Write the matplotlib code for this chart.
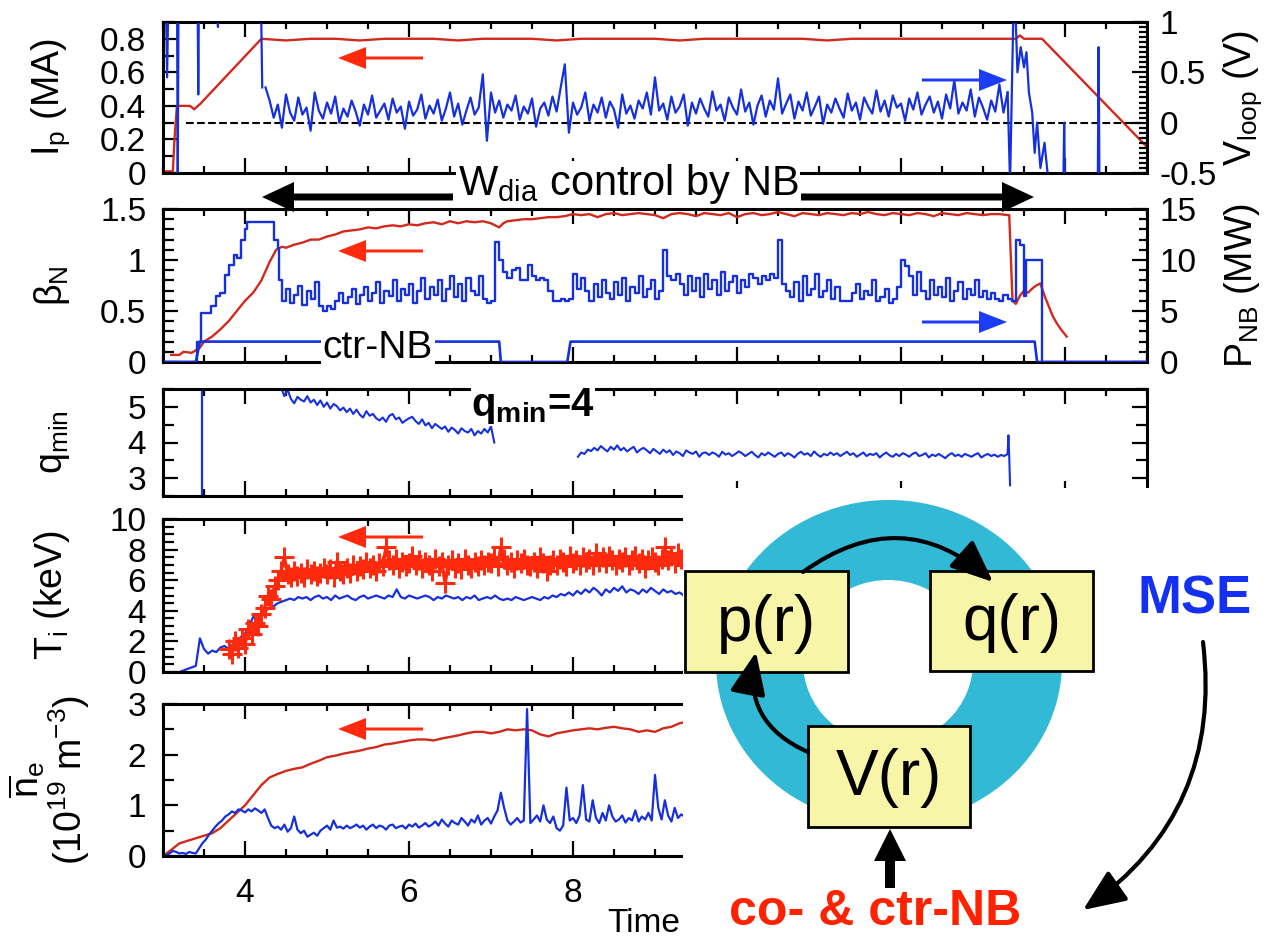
import numpy as np
import matplotlib
matplotlib.use('Agg')
from matplotlib import pyplot as plt
from matplotlib.patches import Rectangle, Ellipse, FancyArrowPatch
from matplotlib.ticker import MultipleLocator, FixedLocator, FormatStrFormatter

plt.rcParams['font.family'] = ['Liberation Sans', 'DejaVu Sans']
plt.rcParams['mathtext.fontset'] = 'custom'
plt.rcParams['mathtext.rm'] = 'Liberation Sans'
plt.rcParams['mathtext.it'] = 'Liberation Sans:italic'
plt.rcParams['mathtext.bf'] = 'Liberation Sans:bold'
plt.rcParams['mathtext.default'] = 'regular'
plt.rcParams['axes.unicode_minus'] = False

# ---- panel 1: Ip (MA) and Vloop (V)
ip_t = [3.03, 3.12, 3.14, 3.17, 3.33, 3.38, 3.45, 4.20, 4.5, 4.8, 5.1, 5.4, 5.7, 6.0, 6.3, 6.6,
        6.9, 7.2, 7.5, 7.8, 8.1, 8.4, 8.7, 9.0, 9.3, 9.6, 9.9, 10.2, 10.5, 10.8, 11.1, 11.4,
        11.7, 12.0, 12.3, 12.6, 12.9, 13.2, 13.4, 13.45, 13.5, 13.72, 15.0]
ip_v = [0.01, 0.01, 0.2, 0.4, 0.4, 0.38, 0.41, 0.8, 0.79, 0.8, 0.8, 0.79, 0.8, 0.8, 0.8, 0.79,
        0.8, 0.8, 0.8, 0.79, 0.8, 0.8, 0.8, 0.8, 0.79, 0.8, 0.8, 0.8, 0.8, 0.8, 0.79, 0.8,
        0.8, 0.8, 0.8, 0.8, 0.8, 0.8, 0.8, 0.82, 0.8, 0.8, 0.155]

vl_t0 = [3.03, 3.05, 3.07, 3.17, 3.18, 3.19, 3.42, 3.43, 3.44, 3.66, 3.67, 3.68, 4.19, 4.21]
vl_v0 = [1.5, 0.45, 1.5, 1.5, -0.6, 1.5, 1.5, 0.28, 1.5, 1.5, 0.95, 1.5, 1.5, 0.35]
# Vloop, 4.25 .. 13.30 s (x0.01 V)
vl_mid = [35, 22, 5, 18, -5, 28, 10, 2, 25, 8,
          15, -8, 30, 12, 4, 20, 9, 26, 0, 14,
          6, 22, 11, -3, 18, 8, 27, 5, 12, 19,
          3, 24, 10, 16, -6, 21, 7, 13, 28, 4,
          17, 9, 23, 2, 14, 30, 6, 19, -2, 12,
          25, 8, 15, 48, -18, 30, 10, 22, 5, 18,
          12, 27, 3, 16, 9, 24, -4, 14, 20, 7,
          26, 11, 35, 58, -10, 20, 8, 15, 30, 2,
          18, 10, 25, 5, 21, 13, -5, 28, 9, 17,
          4, 22, 14, 30, 8, 45, 12, 19, 3, 26,
          10, 16, 28, -3, 20, 9, 24, 14, 6, 31,
          12, 18, 2, 25, 15, 8, 33, 11, 20, -2,
          17, 27, 6, 22, 13, 44, 9, 19, 28, 4,
          21, 12, 30, 7, 16, 26, -1, 18, 10, 24,
          14, 5, 29, 12, 20, 3, 25, 16, 9, 32,
          11, 22, 6, 27, 15, 19, 2, 24, 13, 30,
          8, 18, 26, 10, 21, 4, 28, 14, 42, 9,
          20, 12, 33, 6, 25, 15, 3, 22, 11, 38,
          10, 30]
vl_t1 = [13.33, 13.38, 13.42, 13.46, 13.5, 13.53, 13.56, 13.6, 13.63, 13.66, 13.7, 13.75,
         13.8, 13.98, 13.99, 14.0, 14.4, 14.41, 14.42, 15.0]
vl_v1 = [-0.6, 1.5, 0.5, 0.75, 0.55, 0.7, 0.3, 0.1, -0.3, 0.0, -0.45, -0.2,
         -0.6, -0.6, 0.0, -0.6, -0.6, 0.75, -0.6, -0.6]

# ---- panel 2: beta_N and P_NB (MW)
bn_t = [3.1, 3.2, 3.25, 3.35, 3.45, 3.5, 3.6, 3.7, 3.8, 3.9, 4.0, 4.1, 4.2, 4.3, 4.38, 4.45,
        4.5, 4.6, 4.7, 4.8, 4.9, 5.0, 5.1, 5.2, 5.3, 5.4, 5.5, 5.6, 5.7, 5.8, 5.9, 6.0, 6.1,
        6.2, 6.3, 6.4, 6.5, 6.6, 6.7, 6.8, 6.9, 7.0, 7.1, 7.15, 7.2, 7.3, 7.4, 7.5, 7.6, 7.7,
        7.8, 7.9, 8.0]
bn_v = [0.07, 0.07, 0.1, 0.09, 0.14, 0.2, 0.25, 0.32, 0.4, 0.5, 0.6, 0.68, 0.8, 0.98, 1.1, 1.13,
        1.12, 1.15, 1.17, 1.2, 1.2, 1.23, 1.25, 1.28, 1.29, 1.3, 1.32, 1.31, 1.33, 1.34, 1.33, 1.35, 1.34,
        1.36, 1.37, 1.35, 1.38, 1.36, 1.38, 1.37, 1.38, 1.36, 1.32, 1.36, 1.38, 1.39, 1.4, 1.4, 1.41, 1.42,
        1.42, 1.43, 1.45]
# beta_N 8.1 .. 13.3 s (x0.01)
bn_mid = [144, 145, 142, 145, 146, 144, 145, 146, 145, 144,
          141, 145, 146, 145, 143, 146, 145, 144, 146, 142,
          145, 146, 144, 145, 147, 145, 143, 146, 145, 144,
          146, 145, 144, 146, 145, 147, 145, 144, 146, 145,
          144, 146, 145, 143, 146, 145, 144, 146, 145, 144,
          145, 145, 144]
bn_t1 = [13.32, 13.36, 13.4, 13.45, 13.5, 13.55, 13.6, 13.65, 13.7, 13.75, 13.8, 13.85, 13.9,
         13.95, 14.0, 14.02]
bn_v1 = [1.44, 0.6, 0.57, 0.65, 0.7, 0.68, 0.72, 0.75, 0.77, 0.65, 0.55, 0.45, 0.38,
         0.32, 0.27, 0.25]

pnb_t0 = [3.0, 3.4, 3.42, 3.46, 3.55, 3.58, 3.65, 3.7, 3.75, 3.8, 3.87, 3.9, 3.95, 4.0, 4.03,
          4.3, 4.35, 4.4, 4.42]
pnb_v0 = [0, 0, 2, 4.8, 4.8, 5.5, 6.5, 6.8, 8.5, 9.5, 10.5, 10.2, 12, 13, 13.7,
          13.7, 12, 11.2, 8]
# P_NB 4.45 .. 13.35 s (x0.1 MW)
pnb_mid = [60, 72, 58, 66, 75, 56, 70, 62, 78, 55,
           50, 55, 52, 60, 68, 58, 64, 72, 57, 66,
           74, 60, 68, 78, 58, 70, 65, 80, 60, 72,
           66, 76, 58, 70, 82, 62, 74, 66, 80, 60,
           72, 84, 64, 76, 60, 82, 70, 66, 84, 62,
           58, 60, 118, 100, 88, 82, 90, 92, 80, 80,
           95, 84, 80, 82, 80, 70, 60, 60, 62, 60,
           62, 86, 72, 82, 70, 60, 76, 64, 80, 68,
           62, 78, 66, 82, 60, 74, 68, 84, 64, 72,
           80, 62, 70, 110, 84, 80, 86, 76, 66, 84,
           70, 82, 64, 86, 72, 80, 66, 88, 70, 78,
           84, 68, 80, 74, 86, 82, 76, 84, 80, 86,
           82, 120, 76, 70, 64, 78, 60, 84, 66, 72,
           86, 64, 70, 80, 62, 74, 60, 60, 60, 68,
           76, 62, 70, 66, 80, 60, 64, 72, 58, 62,
           74, 100, 94, 84, 66, 88, 70, 62, 80, 66,
           74, 64, 82, 60, 70, 78, 62, 72, 66, 80,
           64, 70, 62, 68, 62, 60, 66, 62, 60]
pnb_t1 = [13.4, 13.45, 13.5, 13.52, 13.7, 13.72, 15.0]
pnb_v1 = [12, 11.5, 6.5, 10, 10, 0, 0]

ctr_t = [3.0, 3.4, 3.45, 7.1, 7.12, 7.93, 7.97, 13.63, 13.66, 15.0]
ctr_v = [0, 0, 2, 2, 0, 0, 2, 2, 0, 0]

# ---- panel 3: q_min
q_spike_t = [3.48, 3.48]
q_spike_v = [2.4, 5.6]
# 4.44 .. 7.04 s (x0.01)
q_seg1 = [555, 530, 548, 522, 510, 528, 520, 515, 530, 512,
          520, 505, 518, 500, 512, 495, 508, 502, 490, 498,
          485, 495, 480, 492, 478, 470, 488, 475, 480, 468,
          462, 470, 458, 475, 480, 465, 470, 455, 462, 468,
          472, 460, 452, 465, 448, 455, 440, 452, 445, 438,
          445, 430, 442, 435, 425, 440, 432, 428, 438, 420,
          432, 425, 438, 428, 445, 400]
# 8.06 .. 13.30 s (x0.01)
q_seg2 = [360, 372, 368, 380, 376, 385, 378, 390, 382, 375,
          388, 380, 392, 378, 385, 375, 382, 388, 372, 380,
          385, 378, 370, 382, 375, 368, 380, 372, 378, 365,
          375, 370, 362, 378, 372, 368, 375, 360, 370, 372,
          365, 372, 368, 360, 374, 366, 370, 362, 368, 375,
          370, 362, 368, 374, 365, 358, 370, 364, 372, 366,
          360, 368, 372, 362, 370, 365, 358, 368, 374, 366,
          370, 362, 375, 366, 360, 368, 364, 372, 365, 370,
          362, 368, 374, 365, 370, 360, 366, 372, 362, 368,
          365, 370, 358, 366, 372, 364, 360, 368, 362, 370,
          366, 360, 368, 372, 362, 365, 370, 358, 366, 362,
          368, 362, 356, 365, 370, 362, 366, 360, 368, 364,
          360, 366, 370, 358, 364, 368, 362, 366, 360, 365,
          362, 368]
q_end_t = [13.30, 13.31, 13.32, 13.33]
q_end_v = [3.68, 4.2, 3.6, 2.8]

# ---- panel 4: Ti (keV)
# blue 3.20 .. 9.40 s (x0.1 keV)
ti_blue = [0, 1, 2, 3, 4, 22, 15, 12, 14, 13,
           16, 17, 15, 18, 20, 23, 25, 30, 36, 35,
           38, 40, 42, 43, 45, 46, 47, 48, 47, 49,
           48, 49, 47, 49, 50, 48, 49, 47, 50, 48,
           49, 50, 48, 47, 49, 50, 48, 49, 50, 49,
           48, 50, 49, 54, 49, 48, 50, 49, 48, 49,
           50, 49, 47, 49, 48, 50, 49, 48, 49, 47,
           49, 48, 50, 47, 48, 49, 48, 50, 48, 47,
           48, 47, 49, 48, 47, 48, 49, 48, 47, 49,
           48, 50, 49, 51, 50, 52, 50, 53, 51, 54,
           52, 55, 53, 50, 54, 52, 55, 53, 56, 52,
           54, 53, 51, 54, 52, 55, 53, 51, 54, 52,
           53, 51, 52, 50, 52]
# red 3.80 .. 9.40 s (x0.1 keV)
ti_red = [15, 12, 20, 16, 22, 18, 28, 25, 32, 30,
          38, 42, 50, 48, 56, 60, 66, 75, 64, 62,
          66, 63, 65, 62, 67, 64, 66, 63, 65, 68,
          64, 67, 62, 72, 66, 64, 68, 65, 70, 66,
          69, 67, 72, 68, 70, 66, 71, 69, 82, 73,
          70, 74, 68, 72, 69, 71, 76, 70, 73, 68,
          72, 70, 66, 74, 69, 72, 58, 70, 73, 68,
          71, 67, 74, 70, 68, 72, 69, 73, 70, 72,
          71, 75, 69, 82, 74, 70, 72, 68, 73, 71,
          74, 70, 69, 72, 68, 75, 71, 66, 70, 73,
          70, 74, 72, 69, 76, 71, 73, 70, 75, 72,
          74, 70, 78, 72, 75, 71, 76, 73, 70, 74,
          72, 75, 70, 73, 76, 71, 74, 68, 73, 75,
          72, 70, 74, 82, 73, 76, 71, 78, 74, 70,
          72]

# ---- panel 5: line-averaged ne (1e19 m^-3)
# red 3.0 .. 9.4 s every 0.1 s
ne_red = [0, 0.12, 0.25, 0.3, 0.35, 0.4, 0.45, 0.55, 0.7, 0.85,
          1.0, 1.2, 1.4, 1.55, 1.62, 1.68, 1.72, 1.75, 1.82, 1.88,
          1.95, 1.98, 2.02, 2.05, 2.08, 2.12, 2.15, 2.2, 2.22, 2.25,
          2.28, 2.3, 2.3, 2.28, 2.32, 2.35, 2.38, 2.42, 2.45, 2.45,
          2.42, 2.45, 2.5, 2.48, 2.5, 2.48, 2.4, 2.36, 2.42, 2.45,
          2.48, 2.5, 2.52, 2.5, 2.53, 2.55, 2.52, 2.5, 2.45, 2.48,
          2.45, 2.52, 2.55, 2.62, 2.65]
# blue 3.00 .. 9.40 s (x0.01)
ne_blue = [0, 2, 5, 10, 8, 5, 6, 4, 8, 6,
           5, 15, 25, 32, 42, 50, 58, 65, 70, 78,
           82, 88, 85, 92, 90, 86, 92, 88, 94, 90,
           85, 92, 75, 60, 55, 58, 52, 62, 48, 55,
           78, 52, 45, 50, 38, 42, 46, 40, 50, 55,
           60, 52, 70, 56, 58, 54, 60, 55, 58, 62,
           56, 60, 52, 58, 62, 55, 60, 58, 52, 60,
           62, 55, 58, 60, 54, 62, 58, 64, 56, 60,
           65, 58, 62, 68, 60, 72, 64, 58, 70, 65,
           62, 75, 68, 60, 72, 66, 80, 62, 70, 75,
           64, 78, 90, 125, 95, 70, 62, 68, 75, 66,
           70, 290, 65, 72, 80, 68, 100, 72, 65, 78,
           55, 50, 60, 135, 70, 75, 65, 80, 140, 72,
           68, 110, 75, 65, 85, 70, 100, 78, 68, 72,
           80, 66, 75, 70, 90, 68, 78, 72, 85, 70,
           160, 95, 72, 110, 80, 68, 95, 75, 82, 78,
           75]

RED = '#d12a1c'
BLUE = '#1530dc'
RED_A = '#ff2a0e'
BLUE_A = '#1d3cf5'

W, H = 1278, 942
fig = plt.figure(figsize=(W / 100, H / 100), dpi=100)


def box(l, t, r, b):
    return [l / W, 1 - b / H, (r - l) / W, (b - t) / H]


TS = 24


def style(ax, ylim, ymaj, ymin, xlabels=False):
    ax.set_xlim(3, 15)
    ax.set_ylim(*ylim)
    ax.xaxis.set_major_locator(MultipleLocator(2))
    ax.xaxis.set_minor_locator(MultipleLocator(0.5))
    ax.yaxis.set_major_locator(MultipleLocator(ymaj))
    ax.yaxis.set_minor_locator(MultipleLocator(ymin))
    ax.yaxis.set_major_formatter(FormatStrFormatter('%g'))
    ax.xaxis.set_major_formatter(FormatStrFormatter('%d'))
    ax.tick_params(which='both', direction='in', top=True, right=True, width=1.6,
                   labelsize=TS, pad=12, labelbottom=xlabels)
    ax.tick_params(which='major', length=11)
    ax.tick_params(axis='x', which='minor', length=5)
    ax.tick_params(axis='y', which='minor', length=8)
    for s in ax.spines.values():
        s.set_linewidth(2.2)


def style_r(axr, ylim, ymaj, ymin):
    axr.set_ylim(*ylim)
    axr.yaxis.set_major_locator(MultipleLocator(ymaj))
    axr.yaxis.set_minor_locator(MultipleLocator(ymin))
    axr.yaxis.set_major_formatter(FormatStrFormatter('%g'))
    axr.tick_params(which='both', direction='in', width=1.6, labelsize=TS, pad=9)
    axr.tick_params(which='major', length=11)
    axr.tick_params(which='minor', length=6)


LAB = 27
LX = -0.0925
RX = 1.076

# panel 1
ax1 = fig.add_axes(box(163, 22, 1147, 173))
style(ax1, (0, 0.9), 0.2, 0.1)
ax1.tick_params(which='both', right=False)
ax1.plot(ip_t, ip_v, color=RED, lw=1.7)
ax1.set_ylabel(r'I$_{p}$ (MA)', fontsize=LAB)
ax1.yaxis.set_label_coords(LX, 0.5)
ax1r = ax1.twinx()
style_r(ax1r, (-0.5, 1), 0.5, 0.05)
ax1r.plot(vl_t0, vl_v0, color=BLUE, lw=1.6)
ax1r.plot(np.linspace(4.25, 13.30, len(vl_mid)), np.array(vl_mid) / 100, color=BLUE, lw=1.6)
ax1r.plot([13.30] + vl_t1, [0.30] + vl_v1, color=BLUE, lw=1.6)
ax1r.plot([3.28, 15], [0, 0], 'k--', lw=1.5, zorder=0)
ax1r.set_ylabel(r'V$_{loop}$ (V)', fontsize=LAB, rotation=90)
ax1r.yaxis.set_label_coords(RX, 0.5)

# panel 2
ax2 = fig.add_axes(box(163, 209, 1147, 362))
style(ax2, (0, 1.5), 0.5, 0.1)
ax2.tick_params(which='both', right=False)
ax2.plot(bn_t + list(np.linspace(8.1, 13.3, len(bn_mid))) + bn_t1,
         bn_v + list(np.array(bn_mid) / 100) + bn_v1, color=RED, lw=1.7)
ax2.set_ylabel('β$_{N}$', fontsize=LAB)
ax2.yaxis.set_label_coords(LX, 0.5)
ax2r = ax2.twinx()
style_r(ax2r, (0, 15), 5, 1)
ax2r.plot(pnb_t0 + list(np.linspace(4.45, 13.35, len(pnb_mid))) + pnb_t1,
          pnb_v0 + list(np.array(pnb_mid) / 10) + pnb_v1, color=BLUE, lw=1.7, drawstyle='steps-post')
ax2r.plot(ctr_t, ctr_v, color=BLUE, lw=1.9)
ax2r.set_ylabel(r'P$_{NB}$ (MW)', fontsize=LAB, rotation=90)
ax2r.yaxis.set_label_coords(RX, 0.5)

# panel 3
ax3 = fig.add_axes(box(163, 389, 1147, 496))
style(ax3, (2.5, 5.5), 1, 0.5)
ax3.plot(q_spike_t, q_spike_v, color=BLUE, lw=1.6)
ax3.plot(np.linspace(4.44, 7.04, len(q_seg1)), np.array(q_seg1) / 100, color=BLUE, lw=1.5)
ax3.plot(np.linspace(8.06, 13.30, len(q_seg2)), np.array(q_seg2) / 100, color=BLUE, lw=1.5)
ax3.plot(q_end_t, q_end_v, color=BLUE, lw=1.5)
ax3.set_ylabel(r'q$_{min}$', fontsize=LAB)
ax3.yaxis.set_label_coords(LX, 0.5)

# panel 4
ax4 = fig.add_axes(box(163, 519, 1147, 672))
style(ax4, (0, 10), 2, 0.5)
ax4.plot(np.linspace(3.2, 9.4, len(ti_blue)), np.array(ti_blue) / 10, color=BLUE, lw=1.6)
ax4.plot(np.linspace(3.8, 9.4, len(ti_red)), np.array(ti_red) / 10, color=RED_A, lw=2.4,
         marker='+', ms=14, mew=2.2)
ax4.set_ylabel(r'T$_{i}$ (keV)', fontsize=LAB)
ax4.yaxis.set_label_coords(LX, 0.5)

# panel 5
ax5 = fig.add_axes(box(163, 704, 1147, 856))
style(ax5, (0, 3), 1, 0.5, xlabels=True)
ax5.xaxis.set_major_locator(FixedLocator([4, 6, 8]))
ax5.plot(np.linspace(3.0, 9.4, len(ne_red)), ne_red, color=RED, lw=1.7)
ax5.plot(np.linspace(3.0, 9.4, len(ne_blue)), np.array(ne_blue) / 100, color=BLUE, lw=1.6)
ax5.set_ylabel('$\\overline{n}_{e}$\n(10$^{19}$ m$^{-3}$)', fontsize=LAB, linespacing=1.0)
ax5.yaxis.set_label_coords(-0.072, 0.5)
ax5.tick_params(axis='x', labelsize=TS, pad=16)

# overlay in pixel coordinates
ax_d = fig.add_axes([0, 0, 1, 1])
ax_d.set_xlim(0, W)
ax_d.set_ylim(H, 0)
ax_d.axis('off')
ax_d.set_zorder(10)

ax_d.text(680, 924, 'Time', ha='right', va='center', fontsize=TS)

# arrows showing which axis a trace belongs to
for y in [58, 251, 537, 729]:
    ax_d.arrow(423, y, -85, 0, width=3, head_width=22, head_length=28,
               length_includes_head=True, color=RED_A, lw=0)
for y in [80, 322]:
    ax_d.arrow(922, y, 85, 0, width=3, head_width=22, head_length=28,
               length_includes_head=True, color=BLUE_A, lw=0)

ax_d.arrow(453, 197, -191, 0, width=7, head_width=30, head_length=32,
           length_includes_head=True, color='k', lw=0)
ax_d.arrow(801, 197, 233, 0, width=7, head_width=30, head_length=32,
           length_includes_head=True, color='k', lw=0)
ax_d.text(628, 184, r'W$_{dia}$ control by NB', ha='center', va='center', fontsize=30,
          bbox=dict(fc='white', ec='none', pad=1))
ax_d.text(378, 348, 'ctr-NB', ha='center', va='center', fontsize=28,
          bbox=dict(fc='white', ec='none', pad=1))
ax_d.text(533, 406, r'$\mathbf{q}_{\mathbf{min}}$=4', ha='center', va='center', fontsize=29,
          fontweight='bold', bbox=dict(fc='white', ec='none', pad=0))

# diagram
ax_d.add_patch(Rectangle((683, 488), 600, 460, fc='white', ec='none', zorder=1))
ax_d.add_patch(Ellipse((889, 662), 346, 324, fc='#31b9d5', ec='none', zorder=2))
ax_d.add_patch(Ellipse((888, 662), 170, 164, fc='white', ec='none', zorder=2.1))
YEL = '#f7f5a8'
for (x0, y0, w, h, s) in [(685, 571, 163, 101, 'p(r)'), (930, 571, 163, 100, 'q(r)'),
                          (808, 726, 162, 101, 'V(r)')]:
    ax_d.add_patch(Rectangle((x0, y0), w, h, fc=YEL, ec='k', lw=2, zorder=4))
    ax_d.text(x0 + w / 2, y0 + h / 2 + 2, s, ha='center', va='center', fontsize=46, zorder=5)

arr = dict(arrowstyle='-|>,head_length=1.3,head_width=0.55', mutation_scale=20,
           color='k', lw=3, zorder=6, shrinkA=0, shrinkB=0)
ax_d.add_patch(FancyArrowPatch((803, 572), (993, 582), connectionstyle='arc3,rad=-0.4', **arr))
ax_d.add_patch(FancyArrowPatch((808, 752), (756, 652), connectionstyle='arc3,rad=-0.4', **arr))
ax_d.add_patch(FancyArrowPatch((1203, 642), (1083, 910), connectionstyle='arc3,rad=-0.3', **arr))
ax_d.arrow(890, 888, 0, -59, width=10, head_width=32, head_length=32,
           length_includes_head=True, color='k', lw=0, zorder=6)

ax_d.text(1195, 599, 'MSE', ha='center', va='center', fontsize=38, fontweight='bold',
          color='#1430f0', zorder=6)
ax_d.text(875, 912, 'co- & ctr-NB', ha='center', va='center', fontsize=36, fontweight='bold',
          color='#ff2200', zorder=6)

fig.savefig('out.png', dpi=100)
